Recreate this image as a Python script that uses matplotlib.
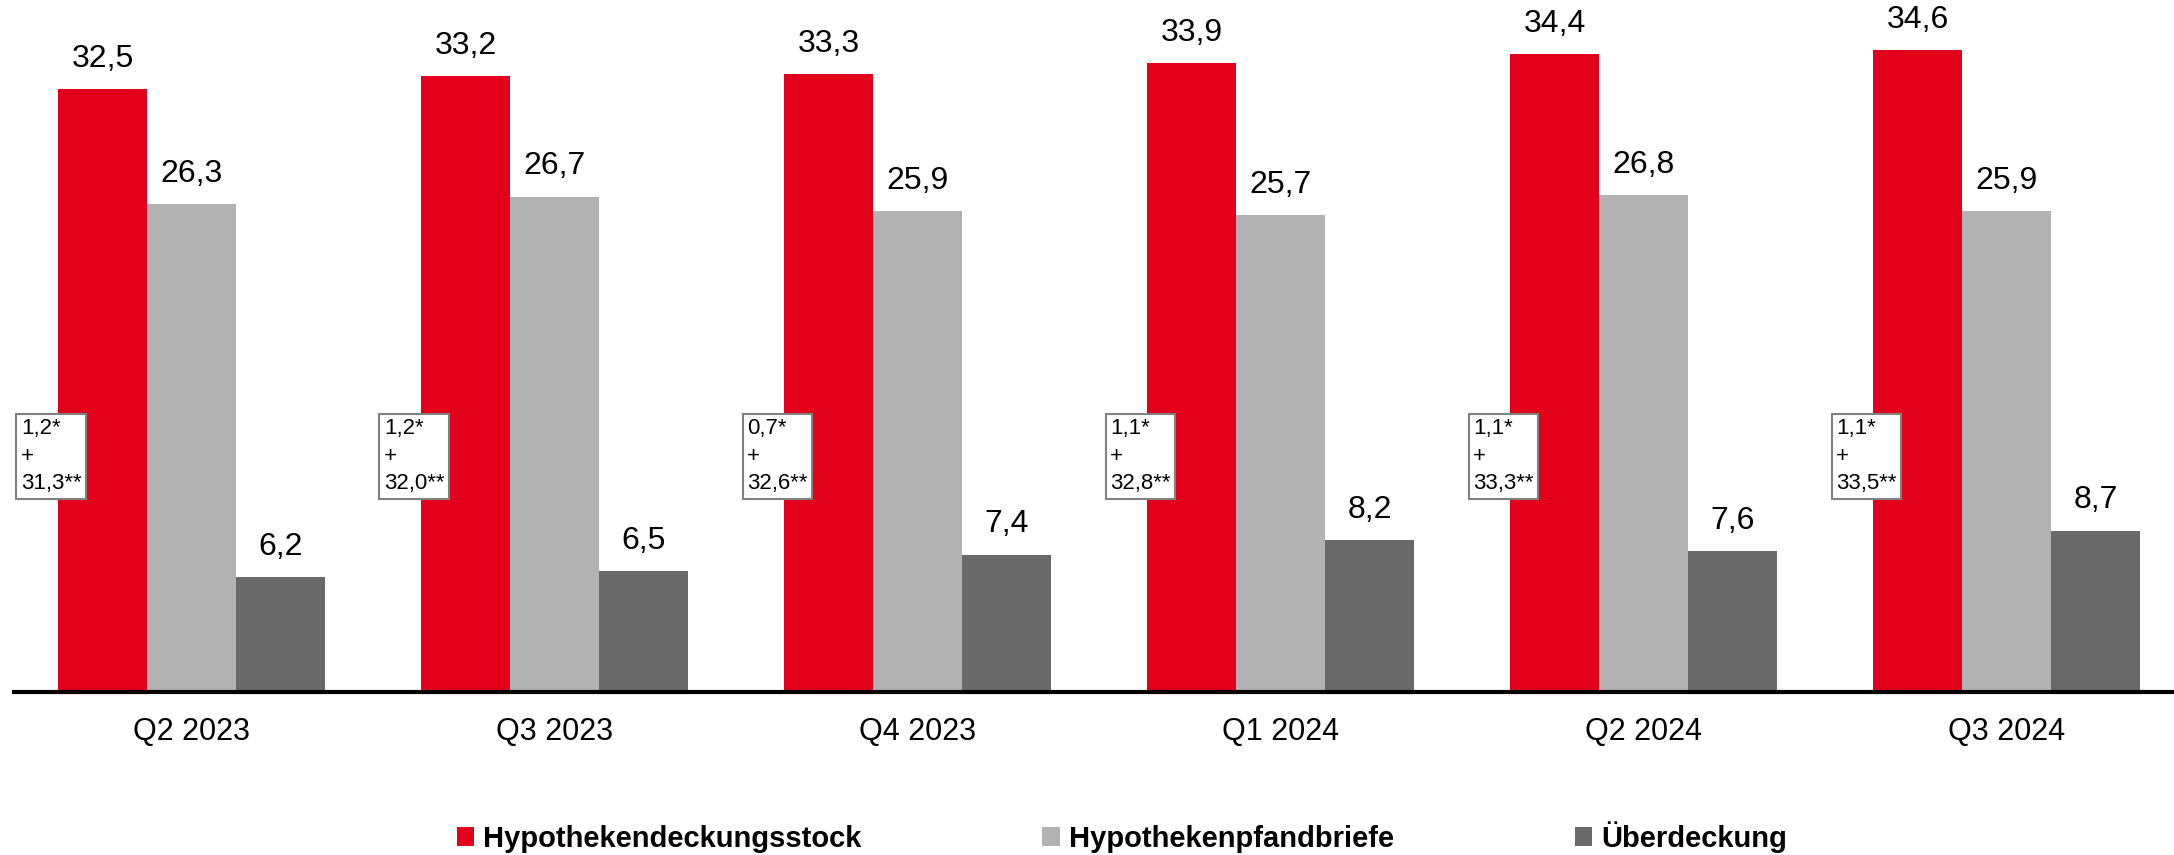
import matplotlib
matplotlib.use("Agg")
import matplotlib.pyplot as plt
import numpy as np

quarters = ["Q2 2023", "Q3 2023", "Q4 2023", "Q1 2024", "Q2 2024", "Q3 2024"]
deckungsstock = [32.5, 33.2, 33.3, 33.9, 34.4, 34.6]
pfandbriefe = [26.3, 26.7, 25.9, 25.7, 26.8, 25.9]
ueberdeckung = [6.2, 6.5, 7.4, 8.2, 7.6, 8.7]
box_a = ["1,2", "1,2", "0,7", "1,1", "1,1", "1,1"]
box_b = ["31,3", "32,0", "32,6", "32,8", "33,3", "33,5"]

names = ["Hypothekendeckungsstock", "Hypothekenpfandbriefe", "Überdeckung"]
colors = ["#E2001A", "#B2B2B2", "#696969"]

plt.rcParams['font.family'] = ['Liberation Sans', 'DejaVu Sans']

fig = plt.figure(figsize=(21.74, 8.55), dpi=100)
ax = fig.add_axes([14 / 2174, (855 - 692) / 855, 2160 / 2174, 692 / 855])

x = np.arange(len(quarters))
w = 0.245
for i, (vals, c) in enumerate(zip([deckungsstock, pfandbriefe, ueberdeckung], colors)):
    pos = x + (i - 1) * w
    ax.bar(pos, vals, w, color=c, label=names[i])
    for p, v in zip(pos, vals):
        ax.annotate(f"{v:.1f}".replace(".", ","), (p, v), xytext=(0, 11),
                    textcoords="offset points", ha="center", va="bottom", fontsize=23)

for xi, a, b in zip(x, box_a, box_b):
    ax.text(xi - 0.47, 12.7, f"{a}*\n+\n{b}**", fontsize=16, ha="left", va="center",
            linespacing=1.4,
            bbox=dict(boxstyle="square,pad=0.2", fc="white", ec="#808080", lw=1.5))

ax.set_xlim(-0.489, 5.461)
ax.set_ylim(0, 37.3)
for s in ["top", "right", "left"]:
    ax.spines[s].set_visible(False)
ax.spines["bottom"].set_linewidth(3)
ax.set_yticks([])
ax.set_xticks(x)
ax.set_xticklabels(quarters, fontsize=22)
ax.tick_params(axis="x", length=0, pad=18)

fig.legend(loc="center", bbox_to_anchor=(0.516, 0.021), ncol=3, frameon=False,
           prop={"weight": "bold", "size": 21},
           handlelength=0.6, handleheight=0.6, handletextpad=0.3, columnspacing=6.2)

fig.savefig("out.png", dpi=100)
